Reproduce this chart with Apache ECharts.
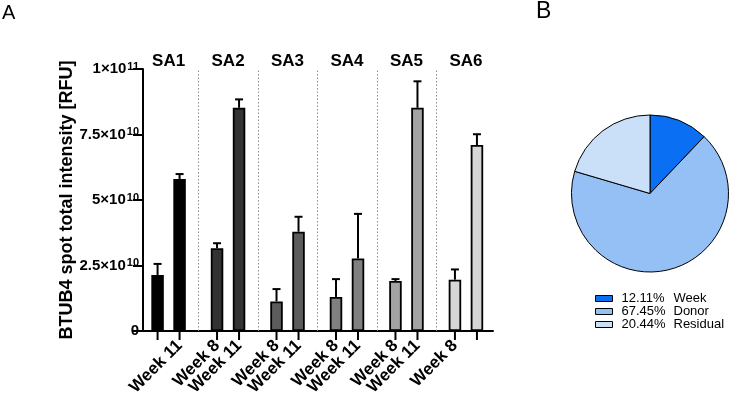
<!DOCTYPE html>
<html>
<head>
<meta charset="utf-8">
<script src="https://cdn.jsdelivr.net/npm/echarts@6/dist/echarts.min.js"></script>
<style>html,body{margin:0;padding:0;background:#fff}#c{width:733px;height:404px}</style>
</head>
<body>
<div id="c"></div>
<script>
// ---- data (intensities in units of 1e9 RFU) ----
const groups = ['SA1', 'SA2', 'SA3', 'SA4', 'SA5', 'SA6'];
const weeks = ['Week 8', 'Week 11'];
const week8 = [21.4, 31.6, 11.3, 13.0, 19.1, 19.6];
const week8SD = [4.2, 1.9, 4.7, 6.8, 0.7, 3.9];
const week11 = [58.0, 85.2, 37.9, 27.7, 85.2, 71.0];
const week11SD = [1.9, 3.2, 5.7, 17.0, 10.1, 4.1];
const yTicks = [0, 25, 50, 75, 100];
const pieNames = ['Week', 'Donor', 'Residual'];
const pieValues = [12.11, 67.45, 20.44];

// ---- styling / layout ----
const groupColors = ['#000000', '#333333', '#5c5c5c', '#808080', '#a3a3a3', '#d6d6d6'];
const pieColors = ['#0a6ff2', '#94c0f6', '#cadff8'];
const weekOffset = [0, 0.37];
const sepOffset = 0.685;
const FONT = '"Liberation Sans", Arial, sans-serif';

const barData = [];
const errData = [];
const tickPos = [];
groups.forEach((g, i) => {
  [week8, week11].forEach((arr, w) => {
    const x = i + weekOffset[w];
    const sd = (w === 0 ? week8SD : week11SD)[i];
    barData.push({ value: [x, arr[i]], itemStyle: { color: groupColors[i] } });
    errData.push([x, arr[i], arr[i] + sd]);
    tickPos.push(x);
  });
});
const seps = groups.slice(0, -1).map((g, i) => ({ xAxis: i + sepOffset }));
const titleData = groups.map((g, i) => [i + (weekOffset[0] + weekOffset[1]) / 2, 100, g]);
const tickData = tickPos.map(p => [p, 0]);

function yFmt(v) {
  if (v === 0) return '{m|0}';
  const real = v * 1e9;
  const e = Math.floor(Math.log10(real) + 1e-9);
  const m = +(real / Math.pow(10, e)).toFixed(2);
  return '{m|' + m + '×10}{s|' + e + '}';
}
function xFmt(v) {
  const idx = tickPos.findIndex(p => Math.abs(p - v) < 1e-6);
  return idx < 0 ? '' : weeks[idx % 2];
}

const chart = echarts.init(document.getElementById('c'), null, { renderer: 'canvas' });
chart.setOption({
  animation: false,
  backgroundColor: '#fff',
  textStyle: { fontFamily: FONT },
  graphic: [
    { type: 'text', left: 2, top: 3, style: { text: 'A', fontSize: 20, fontFamily: FONT, fill: '#000' } },
    { type: 'text', left: 536, top: 0, style: { text: 'B', fontSize: 23, fontFamily: FONT, fill: '#000' } }
  ],
  grid: { left: 143, right: 240, top: 69, bottom: 73, containLabel: false },
  xAxis: {
    type: 'value', min: -0.245, max: 5.64,
    splitLine: { show: false },
    axisLine: { show: true, onZero: false, lineStyle: { color: '#000', width: 2 } },
    axisTick: { show: false },
    axisLabel: {
      customValues: tickPos, formatter: xFmt, rotate: 45, margin: 12,
      fontSize: 17, fontWeight: 'bold', color: '#000', fontFamily: FONT
    }
  },
  yAxis: {
    type: 'value', min: 0, max: 100, interval: 25,
    name: 'BTUB4 spot total intensity [RFU]', nameLocation: 'middle', nameGap: 64,
    nameTextStyle: { fontSize: 18, fontWeight: 'bold', color: '#000', fontFamily: FONT },
    splitLine: { show: false },
    axisLine: { show: true, onZero: false, lineStyle: { color: '#000', width: 2 } },
    axisTick: { show: true, length: 10, lineStyle: { color: '#000', width: 2 } },
    axisLabel: {
      margin: 4, formatter: yFmt,
      rich: {
        m: { fontSize: 15, fontWeight: 'bold', color: '#000', fontFamily: FONT, lineHeight: 18 },
        s: { fontSize: 11, fontWeight: 'bold', color: '#000', fontFamily: FONT, lineHeight: 18, padding: [0, 0, 5, 1] }
      }
    }
  },
  legend: {
    orient: 'vertical', left: 595, top: 292, padding: 0, itemWidth: 17, itemHeight: 6, itemGap: 0,
    icon: 'rect',
    data: pieNames,
    formatter: name => {
      const i = pieNames.indexOf(name);
      return '{p|' + pieValues[i].toFixed(2) + '%}{n|' + name + '}';
    },
    textStyle: {
      fontSize: 13, color: '#000', fontFamily: FONT, lineHeight: 13, padding: [0, 0, 0, 4],
      rich: {
        p: { width: 52, fontSize: 13, fontFamily: FONT, color: '#000', lineHeight: 13 },
        n: { fontSize: 13, fontFamily: FONT, color: '#000', lineHeight: 13 }
      }
    },
    itemStyle: { borderColor: '#000', borderWidth: 1 }
  },
  series: [
    {
      type: 'bar', data: barData, barWidth: 12.5,
      itemStyle: { borderColor: '#000', borderWidth: 1.8 },
      markLine: {
        silent: true, symbol: 'none', label: { show: false },
        lineStyle: { type: [1.5, 2], color: '#8a8a8a', width: 1 },
        data: seps
      }
    },
    {
      type: 'custom', data: errData,
      renderItem: (params, api) => {
        const top = api.coord([api.value(0), api.value(2)]);
        const base = api.coord([api.value(0), api.value(1)]);
        return {
          type: 'group', children: [
            { type: 'line', shape: { x1: top[0], y1: top[1], x2: base[0], y2: base[1] }, style: { stroke: '#000', lineWidth: 2 } },
            { type: 'line', shape: { x1: top[0] - 4, y1: top[1], x2: top[0] + 4, y2: top[1] }, style: { stroke: '#000', lineWidth: 2 } }
          ]
        };
      }
    },
    {
      type: 'custom', data: tickData, clip: false,
      renderItem: (params, api) => {
        const p = api.coord([api.value(0), api.value(1)]);
        return { type: 'line', shape: { x1: p[0], y1: p[1], x2: p[0], y2: p[1] + 9 }, style: { stroke: '#000', lineWidth: 2 } };
      }
    },
    {
      type: 'custom', data: titleData, clip: false,
      renderItem: (params, api) => {
        const p = api.coord([api.value(0), api.value(1)]);
        return {
          type: 'text', x: p[0], y: p[1] - 8,
          style: { text: titleData[params.dataIndex][2], fontSize: 17, fontWeight: 'bold', fill: '#000', fontFamily: FONT, align: 'center', verticalAlign: 'middle' }
        };
      }
    },
    {
      type: 'pie', center: [650, 193.5], radius: 78.5, startAngle: 90, clockwise: true,
      label: { show: false }, labelLine: { show: false },
      itemStyle: { borderColor: '#000', borderWidth: 1 },
      data: pieNames.map((n, i) => ({ name: n, value: pieValues[i], itemStyle: { color: pieColors[i] } }))
    }
  ]
});
</script>
</body>
</html>
